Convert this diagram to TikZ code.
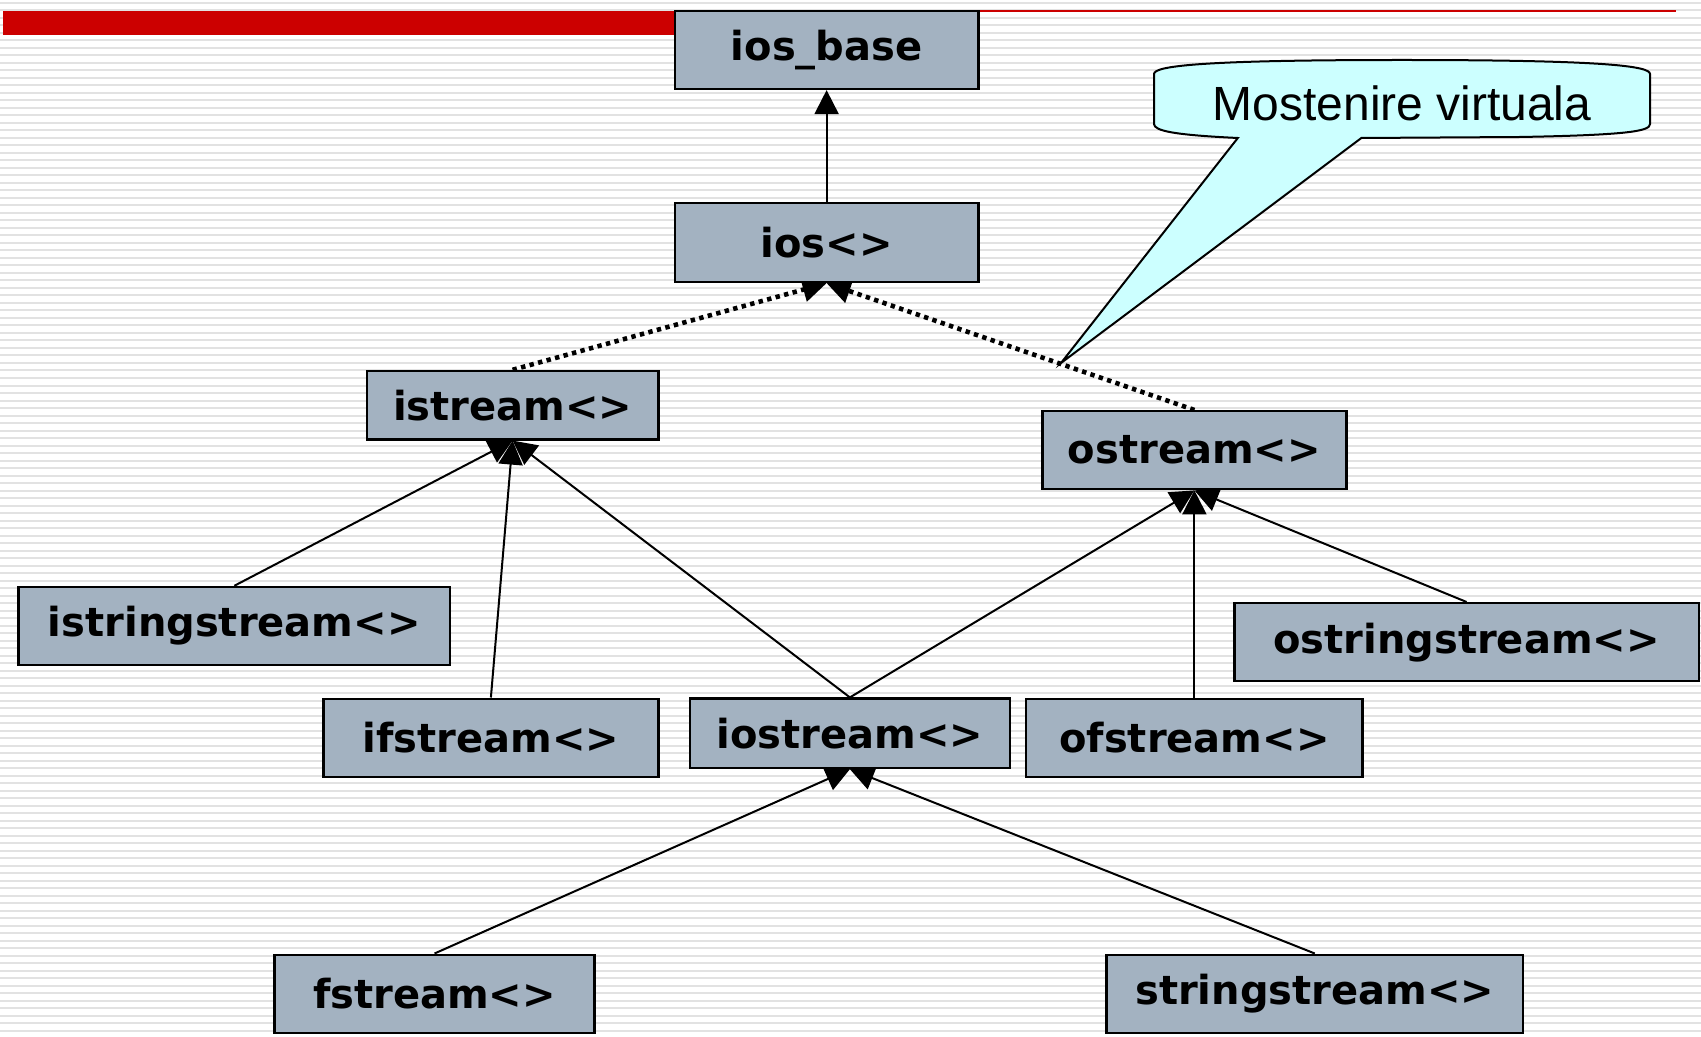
\documentclass[tikz,border=0pt]{standalone}
\usepackage{fontspec}
\setmainfont{Liberation Sans}
\newfontfamily\boxfont{DejaVu Sans}
\usetikzlibrary{arrows.meta,calc}
\definecolor{boxfill}{HTML}{A3B2C1}
\definecolor{callfill}{HTML}{CCFFFF}
\definecolor{barred}{HTML}{CC0000}
\definecolor{stripe}{HTML}{E2E2E2}
\pgfdeclarelayer{back}
\pgfdeclarelayer{edges}
\pgfsetlayers{back,edges,main}
\tikzset{
  cls/.style={draw=black, line width=1.2pt, fill=boxfill, inner sep=0pt,
    font=\boxfont\bfseries\fontsize{20}{24}\selectfont},
  inh/.style={line width=1pt, -{Triangle[length=12pt,width=12pt]}},
  vinh/.style={line width=2.3pt, dash pattern=on 2.2pt off 2.2pt, -{Triangle[length=12pt,width=12pt]}},
}
\begin{document}
\begin{tikzpicture}[x=0.5pt,y=-0.5pt]
\useasboundingbox (0,0) rectangle (1701,1037);
\begin{pgfonlayer}{back}
  \fill[white] (0,0) rectangle (1701,1037);
  \foreach \i in {0,...,138} {
    \fill[stripe] (0,{2+7.5*\i}) rectangle (1701,{4+7.5*\i});
  }
  \fill[barred] (3.3,10.8) rectangle (979,34.7);
  \draw[barred, line width=0.8pt] (979,11) -- (1676,11);
\end{pgfonlayer}

% callout
\coordinate (tip) at (1061,363);
\filldraw[fill=callfill, draw=black, line width=1pt, line join=miter]
  (1237.8,138) -- (tip) -- (1361.4,138) -- (1520,137)
  .. controls (1630,135) and (1650,131) .. (1650,124) -- (1650,74)
  .. controls (1650,66) and (1604,60) .. (1402,60)
  .. controls (1200,60) and (1154,66) .. (1154,74) -- (1154,124)
  .. controls (1154,131) and (1175,135) .. (1237.8,138) -- cycle;
\node[font=\fontsize{24}{28}\selectfont] (calltext) at (1402,103) {Mostenire virtuala};

% classes
\node[cls, minimum width=151.9pt, minimum height=39pt] (iosbase) at (826.6,49.9) {ios\_base};
\node[cls, minimum width=151.9pt, minimum height=39.5pt] (ios) at (826.6,242.5) {ios<>};
\node[cls, minimum width=145.9pt, minimum height=34.2pt] (istream) at (512.6,405.2) {istream<>};
\node[cls, minimum width=151.9pt, minimum height=39pt] (ostream) at (1194.4,450.2) {ostream<>};
\node[cls, minimum width=215.9pt, minimum height=39pt] (isstream) at (234.3,626) {istringstream<>};
\node[cls, minimum width=167.6pt, minimum height=39pt] (ifstream) at (490.9,737.7) {ifstream<>};
\node[cls, minimum width=160pt, minimum height=34.7pt] (iostream) at (849.9,733.3) {iostream<>};
\node[cls, minimum width=168.2pt, minimum height=39pt] (ofstream) at (1194.4,737.7) {ofstream<>};
\node[cls, minimum width=232.2pt, minimum height=39pt] (osstream) at (1466.6,642.2) {ostringstream<>};
\node[cls, minimum width=160pt, minimum height=39pt] (fstream) at (434.5,993.7) {fstream<>};
\node[cls, minimum width=208.3pt, minimum height=39pt] (sstream) at (1314.8,993.7) {stringstream<>};

\begin{pgfonlayer}{edges}
  \draw[inh] (ios.north) -- (iosbase.south);
  \draw[vinh] (istream.north) -- (ios.south);
  \draw[vinh] (ostream.north) -- (ios.south);
  \draw[inh] (isstream.north) -- (istream.south);
  \draw[inh] (ifstream.north) -- (istream.south);
  \draw[inh] (iostream.north) -- (istream.south);
  \draw[inh] (iostream.north) -- (ostream.south);
  \draw[inh] (ofstream.north) -- (ostream.south);
  \draw[inh] (osstream.north) -- (ostream.south);
  \draw[inh] (fstream.north) -- (iostream.south);
  \draw[inh] (sstream.north) -- (iostream.south);
\end{pgfonlayer}
\end{tikzpicture}
\end{document}
